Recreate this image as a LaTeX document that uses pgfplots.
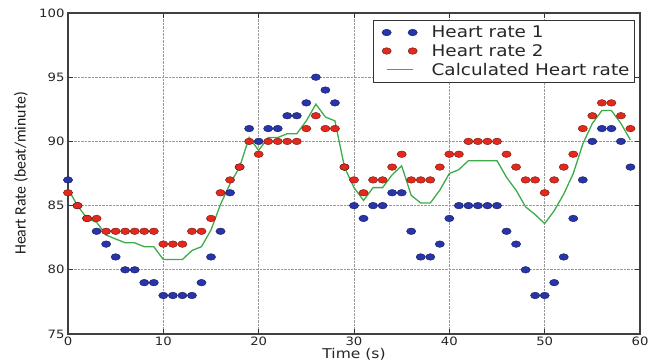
\documentclass[border=0pt]{standalone}
\usepackage{fontspec}
\setmainfont{DejaVu Sans}[FakeStretch=1.15]
\newfontfamily\labelfont{Carlito}
\usepackage{pgfplots}
\usepackage{pgfplotstable}
\pgfplotsset{compat=1.18}
\definecolor{hrblue}{RGB}{40,52,170}
\definecolor{hrblueedge}{RGB}{20,25,90}
\definecolor{hrred}{RGB}{228,40,28}
\definecolor{hrrededge}{RGB}{110,20,15}
\definecolor{hrgreen}{RGB}{60,172,72}
\pgfplotsset{
  twomark legend/.style={legend image code/.code={\path[draw=none,fill=none] (-10pt,0pt) -- (43pt,0pt);\path[##1, draw=none] plot coordinates {(0pt,0pt) (26pt,0pt)};}},
  shortline legend/.style={legend image code/.code={\path[draw=none,fill=none] (-10pt,0pt) -- (43pt,0pt);\draw[##1] (0pt,0pt) -- (26pt,0pt);}},
}
\pgfplotstableread{
t hra hrb calc
0 87 86 86.3
1 85 85 85.0
2 84 84 84.0
3 83 84 83.7
4 82 83 82.7
5 81 83 82.4
6 80 83 82.1
7 80 83 82.1
8 79 83 81.8
9 79 83 81.8
10 78 82 80.8
11 78 82 80.8
12 78 82 80.8
13 78 83 81.5
14 79 83 81.8
15 81 84 83.1
16 83 86 85.1
17 86 87 86.7
18 88 88 88.0
19 91 90 90.3
20 90 89 89.3
21 91 90 90.3
22 91 90 90.3
23 92 90 90.6
24 92 90 90.6
25 93 91 91.6
26 95 92 92.9
27 94 91 91.9
28 93 91 91.6
29 88 88 88.0
30 85 87 86.4
31 84 86 85.4
32 85 87 86.4
33 85 87 86.4
34 86 88 87.4
35 86 89 88.1
36 83 87 85.8
37 81 87 85.2
38 81 87 85.2
39 82 88 86.2
40 84 89 87.5
41 85 89 87.8
42 85 90 88.5
43 85 90 88.5
44 85 90 88.5
45 85 90 88.5
46 83 89 87.2
47 82 88 86.2
48 80 87 84.9
49 78 87 84.3
50 78 86 83.6
51 79 87 84.6
52 81 88 85.9
53 84 89 87.5
54 87 91 89.8
55 90 92 91.4
56 91 93 92.4
57 91 93 92.4
58 90 92 91.4
59 88 91 90.1
}\hrdata
\begin{document}
\begin{tikzpicture}
\begin{axis}[
  name=ax,
  scale only axis,
  width=572pt, height=321pt,
  xmin=0, xmax=60, ymin=75, ymax=100,
  xtick={0,10,...,60}, ytick={75,80,...,100},
  /pgf/number format/assume math mode=true,
  tick label style={font=\fontsize{11.5}{13}\selectfont, text=black!85},
  xticklabel style={yshift=1pt},
  tick align=inside,
  major tick length=5pt,
  tick style={black!80, line width=0.8pt},
  axis line style={black!75, line width=1.3pt},
  grid=major,
  grid style={densely dotted, black!40, line width=0.7pt},
  xlabel={Time (s)},
  ylabel={\labelfont Heart Rate (beat/minute)},
  every axis x label/.style={at={(axis description cs:0.5,0)}, anchor=north, yshift=-14pt, inner sep=0pt, font=\fontsize{13.5}{15}\selectfont, text=black!85},
  every axis y label/.style={at={([xshift=-47pt]axis description cs:0,0.5)}, rotate=90, anchor=center, font=\fontsize{15.8}{18}\selectfont, text=black!90},
  legend style={at={(1,1)}, anchor=north east, xshift=-5pt, yshift=-7pt,
    draw=black!80, line width=0.9pt, font=\fontsize{16}{19}\selectfont,
    text=black!85, inner xsep=3pt, inner ysep=3.5pt, row sep=1.2pt},
  legend cell align=left,
]
\addplot[only marks, mark=*, mark size=3.3pt,
  mark options={xscale=1.4, fill=hrblue, draw=hrblueedge, line width=0.4pt},
  twomark legend]
  table[x=t, y=hra] {\hrdata};
\addlegendentry{Heart rate 1}
\addplot[only marks, mark=*, mark size=3.3pt,
  mark options={xscale=1.4, fill=hrred, draw=hrrededge, line width=0.4pt},
  twomark legend]
  table[x=t, y=hrb] {\hrdata};
\addlegendentry{Heart rate 2}
\addplot[hrgreen, line width=1.3pt, no marks, shortline legend]
  table[x=t, y=calc] {\hrdata};
\addlegendentry{Calculated Heart rate}
\end{axis}
\pgfresetboundingbox
\path ([shift={(-68pt,-27pt)}]ax.south west) rectangle ([shift={(17pt,13pt)}]ax.north east);
\end{tikzpicture}
\end{document}
